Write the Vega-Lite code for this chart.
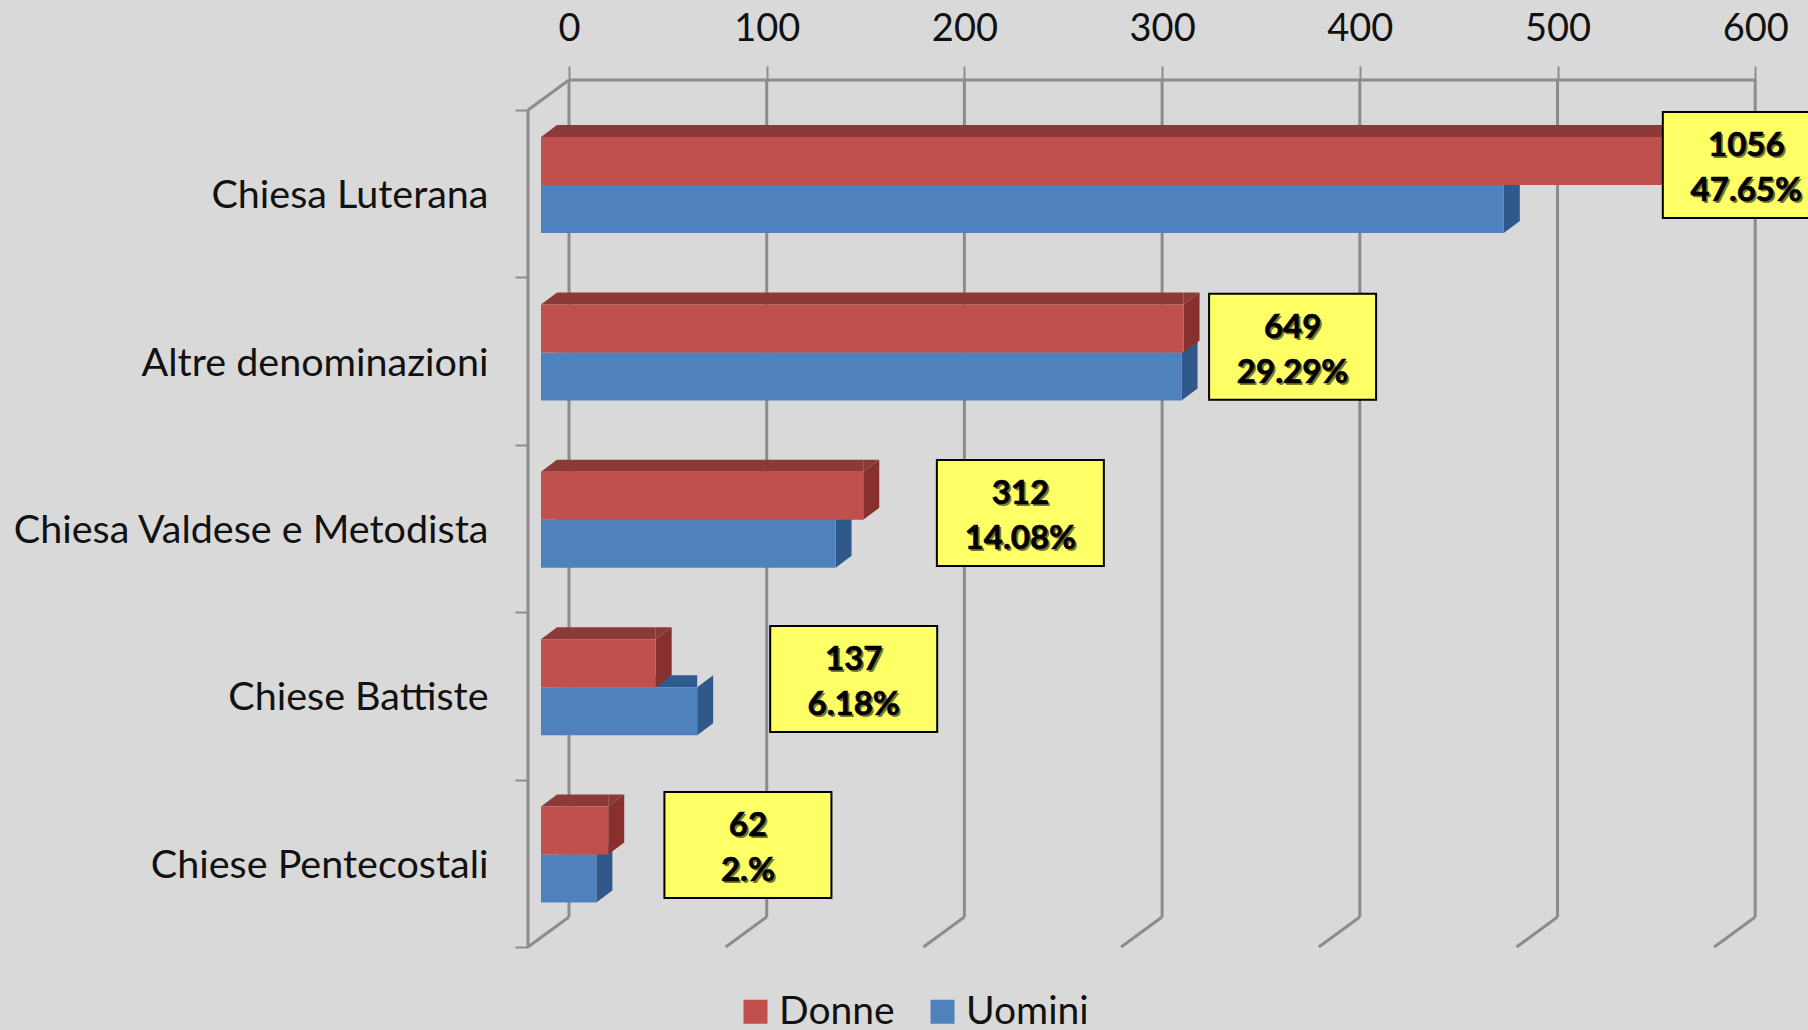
{"$schema":"https://vega.github.io/schema/vega-lite/v6.json","width":1280,"height":867,"autosize":{"type":"none"},"padding":{"left":528,"top":80,"right":0,"bottom":83},"background":"#d9d9d9","config":{"view":{"stroke":null},"font":"Lato"},
"datasets":{
"bars":[
{"cat":"Chiesa Luterana","series":"Donne","value":569},{"cat":"Chiesa Luterana","series":"Uomini","value":487},
{"cat":"Altre denominazioni","series":"Donne","value":325},{"cat":"Altre denominazioni","series":"Uomini","value":324},
{"cat":"Chiesa Valdese e Metodista","series":"Donne","value":163},{"cat":"Chiesa Valdese e Metodista","series":"Uomini","value":149},
{"cat":"Chiese Battiste","series":"Donne","value":58},{"cat":"Chiese Battiste","series":"Uomini","value":79},
{"cat":"Chiese Pentecostali","series":"Donne","value":34},{"cat":"Chiese Pentecostali","series":"Uomini","value":28}],
"labels":[
{"cat":"Chiesa Luterana","count":"1056","pct":"47.65%","at":595.5,"atRow":0.328},
{"cat":"Altre denominazioni","count":"649","pct":"29.29%","at":366,"atRow":1.415},
{"cat":"Chiesa Valdese e Metodista","count":"312","pct":"14.08%","at":228.3,"atRow":2.407},
{"cat":"Chiese Battiste","count":"137","pct":"6.18%","at":144,"atRow":3.399},
{"cat":"Chiese Pentecostali","count":"62","pct":"2.%","at":90.5,"atRow":4.39}],
"ticks":[{"tick":0},{"tick":100},{"tick":200},{"tick":300},{"tick":400},{"tick":500},{"tick":600}]},
"resolve":{"scale":{"y":"independent"}},
"layer":[
{"data":{"name":"ticks"},"mark":{"type":"rule","color":"#8c8c8c","strokeWidth":3,"yOffset":-30,"y2Offset":-30},"encoding":{"x":{"field":"tick","type":"quantitative","scale":{"domain":[-20.74,626.7],"nice":false,"zero":false},"title":null,"axis":{"orient":"top","values":[0,100,200,300,400,500,600],"tickSize":14,"tickWidth":2,"tickColor":"#8c8c8c","domain":false,"grid":false,"labelFontSize":38,"labelColor":"#111111","labelPadding":26,"labelBaseline":"alphabetic","labelOverlap":false,"labelFlush":false}},"y":{"datum":0,"type":"quantitative","scale":{"domain":[0,5],"range":[30,867],"nice":false,"zero":false},"axis":null},"y2":{"datum":5}}},
{"data":{"name":"ticks"},"mark":{"type":"rule","color":"#8c8c8c","strokeWidth":3,"yOffset":-30,"x2Offset":-41},"encoding":{"x":{"field":"tick","type":"quantitative"},"x2":{"field":"tick"},"y":{"datum":5,"type":"quantitative","scale":{"domain":[0,5],"range":[30,867],"nice":false,"zero":false},"axis":null},"y2":{"datum":5}}},
{"data":{"name":"ticks"},"transform":[{"filter":"datum.tick==0"}],"mark":{"type":"rule","color":"#8c8c8c","strokeWidth":3,"xOffset":-41},"encoding":{"x":{"field":"tick","type":"quantitative"},"y":{"datum":0,"type":"quantitative","scale":{"domain":[0,5],"range":[30,867],"nice":false,"zero":false},"axis":null},"y2":{"datum":5}}},
{"data":{"name":"ticks"},"transform":[{"filter":"datum.tick==0"}],"mark":{"type":"rule","color":"#8c8c8c","strokeWidth":3,"yOffset":-30,"x2Offset":-41},"encoding":{"x":{"field":"tick","type":"quantitative"},"x2":{"field":"tick"},"y":{"datum":0,"type":"quantitative","scale":{"domain":[0,5],"range":[30,867],"nice":false,"zero":false},"axis":null},"y2":{"datum":0}}},
{"data":{"name":"ticks"},"transform":[{"filter":"datum.tick==0"}],"mark":{"type":"rule","color":"#8c8c8c","strokeWidth":3,"yOffset":-30},"encoding":{"x":{"datum":0,"type":"quantitative"},"x2":{"datum":600},"y":{"datum":0,"type":"quantitative","scale":{"domain":[0,5],"range":[30,867],"nice":false,"zero":false},"axis":null}}},

{"data":{"name":"bars"},"transform":[{"filter":"datum.series=='Uomini'"}],"mark":{"type":"bar","color":"#2f5a8f","size":12,"yOffset":-14.7,"xOffset":-28,"x2Offset":-12},"encoding":{"x":{"field":"value","type":"quantitative"},"x2":{"datum":0},"y":{"field":"cat","type":"nominal","scale":{"domain":["Chiesa Luterana","Altre denominazioni","Chiesa Valdese e Metodista","Chiese Battiste","Chiese Pentecostali"],"range":[30,867],"paddingInner":0,"paddingOuter":0},"axis":null}}},
{"data":{"name":"bars"},"transform":[{"filter":"datum.series=='Uomini'"}],"mark":{"type":"point","filled":true,"opacity":1,"size":4,"shape":"M0 0L16 -12L16 36L0 48Z","color":"#30588a","xOffset":-28,"yOffset":-8.7},"encoding":{"x":{"field":"value","type":"quantitative"},"y":{"field":"cat","type":"nominal","scale":{"domain":["Chiesa Luterana","Altre denominazioni","Chiesa Valdese e Metodista","Chiese Battiste","Chiese Pentecostali"],"range":[30,867],"paddingInner":0,"paddingOuter":0},"axis":null}}},
{"data":{"name":"bars"},"transform":[{"filter":"datum.series=='Uomini'"}],"mark":{"type":"bar","size":48,"yOffset":15.3,"xOffset":-28,"x2Offset":-28},"encoding":{"x":{"field":"value","type":"quantitative"},"x2":{"datum":0},"y":{"field":"cat","type":"nominal","scale":{"domain":["Chiesa Luterana","Altre denominazioni","Chiesa Valdese e Metodista","Chiese Battiste","Chiese Pentecostali"],"range":[30,867],"paddingInner":0,"paddingOuter":0},"axis":null},"color":{"field":"series","type":"nominal","scale":{"domain":["Donne","Uomini"],"range":["#c0504d","#4f81bd"]}}}},

{"data":{"name":"bars"},"transform":[{"filter":"datum.series=='Donne'"}],"mark":{"type":"bar","color":"#8c3a38","size":12,"yOffset":-62.7,"xOffset":-28,"x2Offset":-12},"encoding":{"x":{"field":"value","type":"quantitative"},"x2":{"datum":0},"y":{"field":"cat","type":"nominal","scale":{"domain":["Chiesa Luterana","Altre denominazioni","Chiesa Valdese e Metodista","Chiese Battiste","Chiese Pentecostali"],"range":[30,867],"paddingInner":0,"paddingOuter":0},"axis":null}}},
{"data":{"name":"bars"},"transform":[{"filter":"datum.series=='Donne'"}],"mark":{"type":"point","filled":true,"opacity":1,"size":4,"shape":"M0 0L16 -12V0Z","color":"#8c3a38","xOffset":-28,"yOffset":-56.7},"encoding":{"x":{"datum":0,"type":"quantitative"},"y":{"field":"cat","type":"nominal","scale":{"domain":["Chiesa Luterana","Altre denominazioni","Chiesa Valdese e Metodista","Chiese Battiste","Chiese Pentecostali"],"range":[30,867],"paddingInner":0,"paddingOuter":0},"axis":null}}},
{"data":{"name":"bars"},"transform":[{"filter":"datum.series=='Donne'"}],"mark":{"type":"point","filled":true,"opacity":1,"size":4,"shape":"M0 0L16 -12L16 36L0 48Z","color":"#88302e","xOffset":-28,"yOffset":-56.7},"encoding":{"x":{"field":"value","type":"quantitative"},"y":{"field":"cat","type":"nominal","scale":{"domain":["Chiesa Luterana","Altre denominazioni","Chiesa Valdese e Metodista","Chiese Battiste","Chiese Pentecostali"],"range":[30,867],"paddingInner":0,"paddingOuter":0},"axis":null}}},
{"data":{"name":"bars"},"transform":[{"filter":"datum.series=='Donne'"}],"mark":{"type":"point","filled":true,"opacity":1,"size":4,"shape":"M0 0L16 -12H0Z","color":"#8c3a38","xOffset":-28,"yOffset":-56.7},"encoding":{"x":{"field":"value","type":"quantitative"},"y":{"field":"cat","type":"nominal","scale":{"domain":["Chiesa Luterana","Altre denominazioni","Chiesa Valdese e Metodista","Chiese Battiste","Chiese Pentecostali"],"range":[30,867],"paddingInner":0,"paddingOuter":0},"axis":null}}},
{"data":{"name":"bars"},"transform":[{"filter":"datum.series=='Donne'"}],"mark":{"type":"bar","size":48,"yOffset":-32.7,"xOffset":-28,"x2Offset":-28},"encoding":{"x":{"field":"value","type":"quantitative"},"x2":{"datum":0},"y":{"field":"cat","type":"nominal","scale":{"domain":["Chiesa Luterana","Altre denominazioni","Chiesa Valdese e Metodista","Chiese Battiste","Chiese Pentecostali"],"range":[30,867],"paddingInner":0,"paddingOuter":0},"axis":{"tickBand":"extent","tickSize":13,"tickWidth":2,"tickColor":"#8c8c8c","domain":false,"grid":false,"title":null,"labelFontSize":39.5,"labelColor":"#111111","labelPadding":27,"labelOffset":2,"labelLimit":0,"labelOverlap":false,"labelFlush":false,"labelBaseline":"middle"},"title":null},"color":{"field":"series","type":"nominal","scale":{"domain":["Donne","Uomini"],"range":["#c0504d","#4f81bd"]},"legend":{"orient":"none","legendX":208,"legendY":912,"direction":"horizontal","title":null,"symbolType":"square","symbolSize":576,"symbolStrokeWidth":0,"labelFontSize":39,"labelColor":"#111111","labelOffset":4,"columnPadding":28,"padding":0,"labelLimit":0}}}},

{"data":{"name":"labels"},"mark":{"type":"point","filled":true,"opacity":1,"size":4,"shape":"M-83.5 -53H83.5V53H-83.5Z","fill":"#ffff66","stroke":"#000000","strokeWidth":2},"encoding":{"x":{"field":"at","type":"quantitative"},"y":{"field":"atRow","type":"quantitative","scale":{"domain":[0,5],"range":[30,867],"nice":false,"zero":false},"axis":null}}},
{"data":{"name":"labels"},"mark":{"type":"text","fontSize":33,"fontWeight":"bold","color":"#77772f","dy":-17,"dx":2,"baseline":"middle"},"encoding":{"x":{"field":"at","type":"quantitative"},"y":{"field":"atRow","type":"quantitative","scale":{"domain":[0,5],"range":[30,867],"nice":false,"zero":false},"axis":null},"text":{"field":"count"}}},
{"data":{"name":"labels"},"mark":{"type":"text","fontSize":33,"fontWeight":"bold","color":"#77772f","dy":28,"dx":2,"baseline":"middle"},"encoding":{"x":{"field":"at","type":"quantitative"},"y":{"field":"atRow","type":"quantitative","scale":{"domain":[0,5],"range":[30,867],"nice":false,"zero":false},"axis":null},"text":{"field":"pct"}}},
{"data":{"name":"labels"},"mark":{"type":"text","fontSize":33,"fontWeight":"bold","color":"#000000","stroke":"#000000","strokeWidth":0.6,"dy":-19,"baseline":"middle"},"encoding":{"x":{"field":"at","type":"quantitative"},"y":{"field":"atRow","type":"quantitative","scale":{"domain":[0,5],"range":[30,867],"nice":false,"zero":false},"axis":null},"text":{"field":"count"}}},
{"data":{"name":"labels"},"mark":{"type":"text","fontSize":33,"fontWeight":"bold","color":"#000000","stroke":"#000000","strokeWidth":0.6,"dy":26,"baseline":"middle"},"encoding":{"x":{"field":"at","type":"quantitative"},"y":{"field":"atRow","type":"quantitative","scale":{"domain":[0,5],"range":[30,867],"nice":false,"zero":false},"axis":null},"text":{"field":"pct"}}}
]}
